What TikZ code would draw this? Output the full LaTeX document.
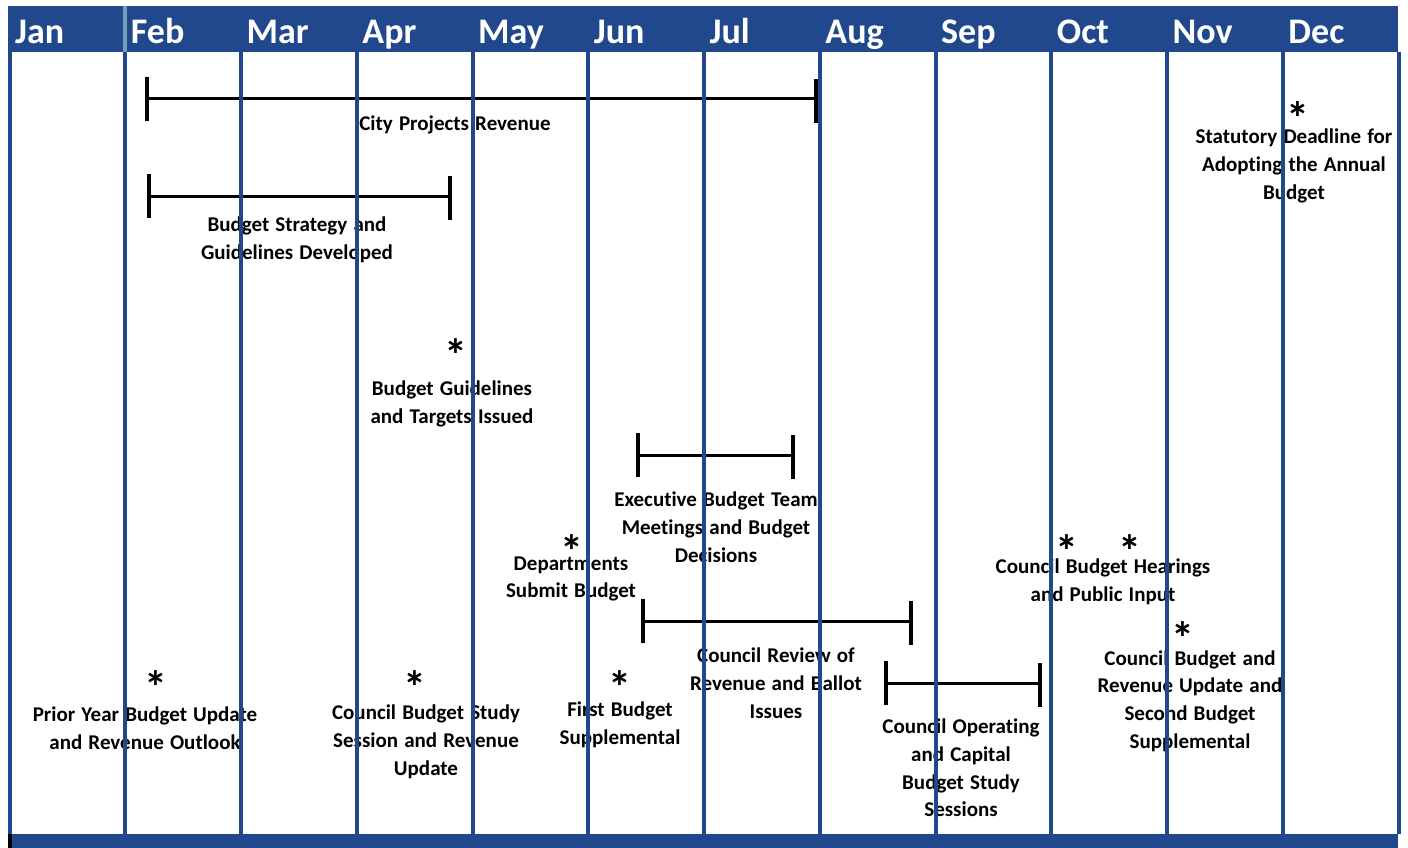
\documentclass[tikz,border=0pt]{standalone}
\usepackage{fontspec}
\setmainfont{Carlito}
\newfontfamily\lblfont{Carlito}[WordSpace=1.3,Ligatures=NoCommon]
\definecolor{calblue}{RGB}{33,72,140}
\definecolor{septeal}{RGB}{110,160,185}

\begin{document}
\begin{tikzpicture}[x=1pt,y=-1pt,
  month/.style={anchor=base west, text=white, inner sep=0,
    font=\bfseries\fontsize{36}{40}\selectfont},
  lbl/.style={align=center, inner sep=0,
    font=\lblfont\bfseries\fontsize{21}{27.8}\selectfont},
  star/.style={inner sep=0, font=\bfseries\fontsize{46}{46}\selectfont},
  bar/.style={line width=3pt},
  tick/.style={line width=3.5pt},
  gridline/.style={calblue, line width=4pt}]

\useasboundingbox (0,0) rectangle (1408,848);

% header and footer bands
\fill[calblue] (8,6) rectangle (1398,52);
\fill[calblue] (8,834) rectangle (1398,848);
\fill[black] (8,834) rectangle (12,848);
\draw[septeal, line width=4pt] (124.5,6) -- (124.5,52);

% month names
\foreach \m [count=\i from 0] in {Jan,Feb,Mar,Apr,May,Jun,Jul,Aug,Sep,Oct,Nov,Dec}
  \node[month] (m\i) at ({15+115.75*\i},44) {\m};

% span bars: left end, right end
\coordinate (cpL) at (147,99);   \coordinate (cpR) at (816,99);
\coordinate (bsL) at (149,196);  \coordinate (bsR) at (450,196);
\coordinate (exL) at (638,455);  \coordinate (exR) at (793,455);
\coordinate (crL) at (643,621);  \coordinate (crR) at (911,621);
\coordinate (coL) at (886,683);  \coordinate (coR) at (1040,683);

\foreach \b in {cp,bs,ex,cr,co}{
  \draw[bar] (\b L) -- (\b R);
  \draw[tick] (\b L) ++(0,-22) -- ++(0,44);
  \draw[tick] (\b R) ++(0,-20) -- ++(0,44);
}

% labels
\node[lbl] (cpT) at (455,125) {City Projects Revenue};
\node[lbl] (bsT) at (297,240) {Budget Strategy and\\Guidelines Developed};

\node[star] (s1) at (456,355) {*};
\node[lbl] (gtT) at (452,404) {Budget Guidelines\\and Targets Issued};

\node[lbl] (exT) at (716,527) {Executive Budget Team\\Meetings and Budget\\Decisions};

\node[star] (s2) at (572,551) {*};
\node[lbl] (dsT) at (571,579) {Departments\\Submit Budget};

\node[lbl] (crT) at (776,683) {Council Review of\\Revenue and Ballot\\Issues};
\node[lbl] (coT) at (961,768) {Council Operating\\and Capital\\Budget Study\\Sessions};

\node[star] (s3) at (1067,551) {*};
\node[star] (s4) at (1130,551) {*};
\node[lbl] (hpT) at (1103,582) {Council Budget Hearings\\and Public Input};

\node[star] (s5) at (1183,638) {*};
\node[lbl] (ruT) at (1190,701) {Council Budget and\\Revenue Update and\\Second Budget\\Supplemental};

\node[star] (s6) at (1298,118) {*};
\node[lbl] (sdT) at (1294,166) {Statutory Deadline for\\Adopting the Annual\\Budget};

\node[star] (s7) at (156,687) {*};
\node[lbl] (pyT) at (145,728) {Prior Year Budget Update\\and Revenue Outlook};

\node[star] (s8) at (415,687) {*};
\node[lbl] (csT) at (426,742) {Council Budget Study\\Session and Revenue\\Update};

\node[star] (s9) at (620,687) {*};
\node[lbl] (fbT) at (620,725) {First Budget\\Supplemental};

% month dividers, drawn over everything
\foreach \i in {0,...,12}
  \draw[gridline] ({9.5+115.75*\i},52) -- ({9.5+115.75*\i},834);
\end{tikzpicture}
\end{document}
